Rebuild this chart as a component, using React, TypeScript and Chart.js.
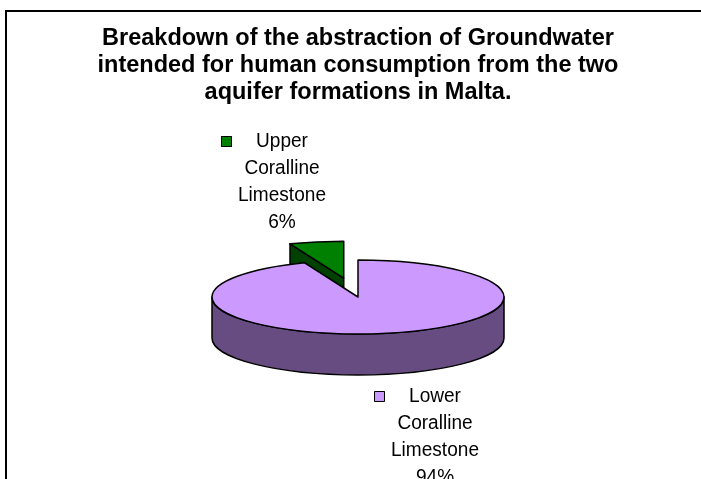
import React, { useEffect, useRef } from 'react';
import { Chart, registerables } from 'chart.js';

Chart.register(...registerables);

// ---- data ----
const CATEGORIES = ['Lower Coralline Limestone', 'Upper Coralline Limestone'];
const LABEL_LINES = [
  ['Lower', 'Coralline', 'Limestone'],
  ['Upper', 'Coralline', 'Limestone'],
];
const VALUES = [94, 6];
const TITLE_LINES = [
  'Breakdown of the abstraction of Groundwater',
  'intended for human consumption from the two',
  'aquifer formations in Malta.',
];

// ---- styles ----
const TOP_COLORS = ['#CC99FF', '#008000'];
const SIDE_COLORS = ['#664C80', '#004000'];
const EXPLODE = [0, 76];
const TILT = 0.253;
const DEPTH = 41;
const FONT_FAMILY = "'Liberation Sans', Arial, sans-serif";
const LABEL_FONT_SIZE = 20.5;
const LABEL_SCALE_X = 0.93;
const LABEL_LINE_HEIGHT = 27;
// label anchors relative to pie centre (block centre x, first baseline y)
const LABEL_ANCHORS = [
  { dx: 77, dy: 105 },
  { dx: -76, dy: -150 },
];

const borderPlugin = {
  id: 'frame',
  beforeDraw(chart: any) {
    const ctx = chart.ctx;
    ctx.save();
    ctx.fillStyle = '#ffffff';
    ctx.fillRect(0, 0, chart.width, chart.height);
    ctx.strokeStyle = '#000000';
    ctx.lineWidth = 2;
    ctx.strokeRect(6, 11, 720, 600);
    ctx.restore();
  },
};

const pie3dPlugin = {
  id: 'pie3d',
  beforeDatasetsDraw(chart: any) {
    const ctx: CanvasRenderingContext2D = chart.ctx;
    const meta = chart.getDatasetMeta(0);
    const total = VALUES.reduce((a, b) => a + b, 0);
    const slices = meta.data.map((arc: any, i: number) => {
      const p = arc.getProps(['x', 'y', 'startAngle', 'endAngle', 'outerRadius'], true);
      const off = (arc.options && arc.options.offset) || 0;
      const mid = (p.startAngle + p.endAngle) / 2;
      return {
        i,
        px: p.x,
        py: p.y,
        cx: p.x + Math.cos(mid) * off,
        cy: p.y + Math.sin(mid) * off * TILT,
        rx: p.outerRadius,
        ry: p.outerRadius * TILT,
        s: p.startAngle,
        e: p.endAngle,
        mid,
      };
    });
    const order = [...slices].sort((a, b) => Math.sin(a.mid) - Math.sin(b.mid));

    ctx.save();
    ctx.lineJoin = 'round';
    ctx.strokeStyle = '#000000';
    ctx.lineWidth = 1.5;

    for (const sl of order) {
      const { cx, cy, rx, ry, s, e } = sl;
      const pt = (t: number, dz: number) => [cx + rx * Math.cos(t), cy + ry * Math.sin(t) + dz];
      const side = SIDE_COLORS[sl.i];
      const face = (t: number) => {
        const [ox, oy] = pt(t, 0);
        ctx.beginPath();
        ctx.moveTo(cx, cy);
        ctx.lineTo(ox, oy);
        ctx.lineTo(ox, oy + DEPTH);
        ctx.lineTo(cx, cy + DEPTH);
        ctx.closePath();
        ctx.fillStyle = side;
        ctx.fill();
        ctx.stroke();
      };
      if (Math.cos(s) < -1e-6) face(s);
      if (Math.cos(e) > 1e-6) face(e);
      for (let k = -1; k <= 2; k++) {
        const a = Math.max(s, 2 * Math.PI * k);
        const b = Math.min(e, 2 * Math.PI * k + Math.PI);
        if (b - a > 1e-6) {
          const [bx, by] = pt(b, 0);
          ctx.beginPath();
          ctx.ellipse(cx, cy, rx, ry, 0, a, b, false);
          ctx.lineTo(bx, by + DEPTH);
          ctx.ellipse(cx, cy + DEPTH, rx, ry, 0, b, a, true);
          ctx.closePath();
          ctx.fillStyle = side;
          ctx.fill();
          ctx.stroke();
        }
      }
      ctx.beginPath();
      ctx.moveTo(cx, cy);
      ctx.ellipse(cx, cy, rx, ry, 0, s, e, false);
      ctx.closePath();
      ctx.fillStyle = TOP_COLORS[sl.i];
      ctx.fill();
      ctx.stroke();
    }

    // data labels with legend keys
    ctx.font = `${LABEL_FONT_SIZE}px ${FONT_FAMILY}`;
    ctx.textAlign = 'center';
    ctx.textBaseline = 'alphabetic';
    for (const sl of slices) {
      const anc = LABEL_ANCHORS[sl.i];
      const ax = sl.px + anc.dx;
      const ay = sl.py + anc.dy;
      const lines = [...LABEL_LINES[sl.i], Math.round((VALUES[sl.i] / total) * 100) + '%'];
      ctx.save();
      ctx.translate(ax, ay);
      ctx.scale(LABEL_SCALE_X, 1);
      ctx.fillStyle = '#000000';
      lines.forEach((ln, j) => ctx.fillText(ln, 0, j * LABEL_LINE_HEIGHT));
      const w0 = ctx.measureText(lines[0]).width * LABEL_SCALE_X;
      ctx.restore();
      const kx = Math.round(ax - w0 / 2 - 24 - 11);
      const ky = Math.round(ay - 11);
      ctx.fillStyle = TOP_COLORS[sl.i];
      ctx.fillRect(kx, ky, 11, 11);
      ctx.lineWidth = 1;
      ctx.strokeRect(kx + 0.5, ky + 0.5, 10, 10);
      ctx.lineWidth = 1.5;
    }
    ctx.restore();
    return false;
  },
};

export default function App() {
  const ref = useRef<HTMLCanvasElement>(null);
  useEffect(() => {
    if (!ref.current) return;
    const chart = new Chart(ref.current, {
      type: 'pie',
      data: {
        labels: CATEGORIES,
        datasets: [
          {
            data: VALUES,
            backgroundColor: TOP_COLORS,
            borderColor: '#000000',
            borderWidth: 1,
            offset: EXPLODE,
          },
        ],
      },
      options: {
        responsive: false,
        animation: false,
        devicePixelRatio: 1,
        events: [],
        radius: 146,
        layout: { padding: { left: 15, right: 0, top: 25, bottom: 32 } },
        plugins: {
          legend: { display: false },
          tooltip: { enabled: false },
          title: {
            display: true,
            text: TITLE_LINES,
            color: '#000000',
            padding: 0,
            font: { family: FONT_FAMILY, size: 23.5, weight: 'bold', lineHeight: '27px' },
          },
        },
      } as any,
      plugins: [borderPlugin, pie3dPlugin],
    });
    return () => chart.destroy();
  }, []);
  return (
    <div style={{ position: 'fixed', left: 0, top: 0, width: 701, height: 479, overflow: 'hidden', background: '#fff' }}>
      <canvas ref={ref} width={701} height={520} style={{ display: 'block' }} />
    </div>
  );
}
